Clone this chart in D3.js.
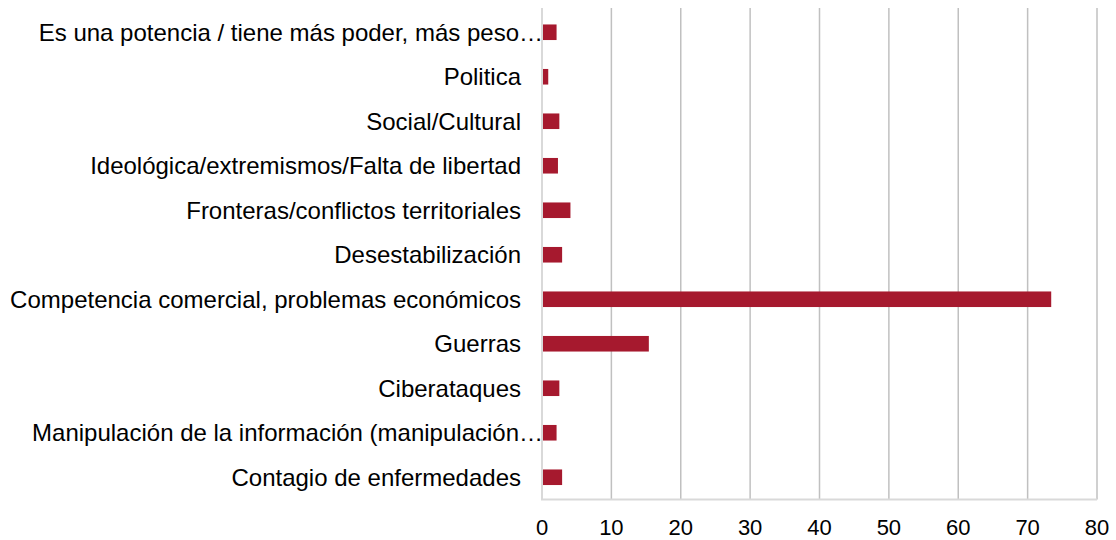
<!DOCTYPE html>
<html>
<head>
<meta charset="utf-8">
<script src="https://cdn.jsdelivr.net/npm/d3@7"></script>
<style>
  body { margin: 0; background: #fff; }
  text { font-family: "Liberation Sans", Arial, sans-serif; fill: #000; }
</style>
</head>
<body>
<svg id="chart" width="1116" height="540"></svg>
<script>
// categories top to bottom
var categories = [
  "Es una potencia / tiene más poder, más peso…",
  "Politica",
  "Social/Cultural",
  "Ideológica/extremismos/Falta de libertad",
  "Fronteras/conflictos territoriales",
  "Desestabilización",
  "Competencia comercial, problemas económicos",
  "Guerras",
  "Ciberataques",
  "Manipulación de la información (manipulación…",
  "Contagio de enfermedades"
];
var values = [2.1, 0.9, 2.5, 2.3, 4.1, 2.9, 73.4, 15.4, 2.5, 2.1, 2.9];
var xTicks = [0, 10, 20, 30, 40, 50, 60, 70, 80];

var svg = d3.select("#chart");
var plotLeft = 542, plotRight = 1097, plotTop = 10, plotBottom = 499.5;

var x = d3.scaleLinear().domain([0, 80]).range([plotLeft, plotRight]);
var y = d3.scaleBand().domain(categories).range([plotTop, plotBottom]).paddingInner(0.65).paddingOuter(0.325);

// gridlines
svg.append("g").selectAll("line")
  .data(xTicks.slice(1))
  .enter().append("line")
  .attr("x1", function (d) { return x(d); })
  .attr("x2", function (d) { return x(d); })
  .attr("y1", plotTop - 2)
  .attr("y2", plotBottom)
  .style("stroke", "#c0c0c0")
  .style("stroke-width", 1.5);

// bars
svg.append("g").selectAll("rect")
  .data(values)
  .enter().append("rect")
  .attr("x", x(0) + 1)
  .attr("y", function (d, i) { return y(categories[i]); })
  .attr("width", function (d) { return x(d) - x(0) - 1; })
  .attr("height", y.bandwidth())
  .style("fill", "#a6192e");

// axis lines
svg.append("line")
  .attr("x1", x(0)).attr("x2", x(0))
  .attr("y1", plotTop - 2).attr("y2", plotBottom)
  .style("stroke", "#d9d9d9").style("stroke-width", 2);
svg.append("line")
  .attr("x1", x(0) - 1).attr("x2", x(80))
  .attr("y1", plotBottom).attr("y2", plotBottom)
  .style("stroke", "#d9d9d9").style("stroke-width", 2);

// category labels (truncated ones let the ellipsis hang past the label edge)
svg.append("g").selectAll("text")
  .data(categories)
  .enter().append("text")
  .attr("x", function (d) { return d.slice(-1) === "…" ? 543 : 521; })
  .attr("y", function (d) { return y(d) + y.bandwidth() / 2; })
  .attr("dy", "0.36em")
  .attr("text-anchor", "end")
  .style("font-size", "24px")
  .text(function (d) { return d; });

// x tick labels
svg.append("g").selectAll("text")
  .data(xTicks)
  .enter().append("text")
  .attr("x", function (d) { return x(d); })
  .attr("y", 535)
  .attr("text-anchor", "middle")
  .style("font-size", "22px")
  .text(function (d) { return d; });
</script>
</body>
</html>
